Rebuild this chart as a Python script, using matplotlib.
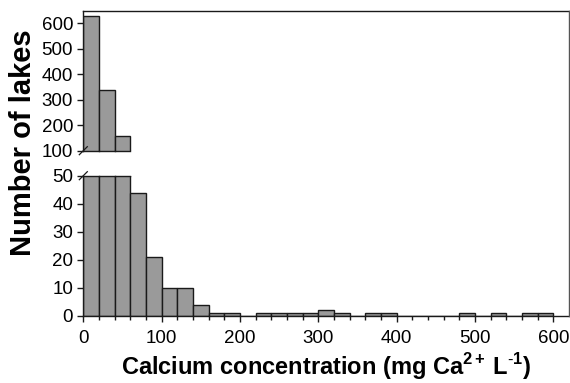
import numpy as np
import matplotlib
matplotlib.use("Agg")
import matplotlib.pyplot as plt
from matplotlib.lines import Line2D

plt.rcParams['font.family'] = ['Liberation Sans', 'DejaVu Sans']
plt.rcParams['mathtext.fontset'] = 'custom'
plt.rcParams['mathtext.rm'] = 'Liberation Sans'
plt.rcParams['mathtext.bf'] = 'Liberation Sans:bold'

# Histogram data: bin start (mg Ca2+ L-1), bin width 20
bin_width = 20
bin_starts = list(range(0, 600, 20))
counts = [630, 338, 159, 44, 21, 10, 10, 4, 1, 1,
          0, 1, 1, 1, 1, 2, 1, 0, 1, 1,
          0, 0, 0, 0, 1, 0, 1, 0, 1, 1]

upper_ticks = [100, 200, 300, 400, 500, 600]
lower_ticks = [0, 10, 20, 30, 40, 50]
x_ticks = [0, 100, 200, 300, 400, 500, 600]

W, H = 570, 383
fig = plt.figure(figsize=(W / 100, H / 100), dpi=100)

left = 83.3 / W
width = (569 - 83.3) / W
ax_up = fig.add_axes([left, 1 - 150.7 / H, width, 140 / H])
ax_lo = fig.add_axes([left, 1 - 315.7 / H, width, 140 / H])

bar_kw = dict(width=bin_width, align='edge', color='#9a9a9a', edgecolor='#1a1a1a', linewidth=1.0)
for ax in (ax_up, ax_lo):
    ax.bar(bin_starts, counts, **bar_kw)
    ax.set_xlim(0, 620)
    for s in ax.spines.values():
        s.set_linewidth(1.0)
        s.set_color('#1a1a1a')

ax_up.set_ylim(100, 650)
ax_lo.set_ylim(0, 50)

# lines where bars are cut by the axis break
for x, c in zip(bin_starts, counts):
    if c > 50:
        ax_lo.plot([x, x + bin_width], [50, 50], color='#1a1a1a', lw=1.0, clip_on=False)
    if c > 100:
        ax_up.plot([x, x + bin_width], [100, 100], color='#1a1a1a', lw=1.0, clip_on=False)

ax_up.set_yticks(upper_ticks)
ax_lo.set_yticks(lower_ticks)
ax_up.set_xticks([])
ax_up.spines['bottom'].set_visible(False)
ax_lo.spines['top'].set_visible(False)
ax_up.spines['right'].set_visible(False)
ax_lo.spines['right'].set_visible(False)

ax_lo.set_xticks(x_ticks)
ax_lo.set_xticks(bin_starts + [600], minor=True)
ax_lo.tick_params(axis='x', which='major', direction='out', length=4.2, width=1.0,
                  labelsize=13.5, pad=6, color='#1a1a1a')
ax_lo.tick_params(axis='x', which='minor', direction='out', length=3, width=1.0,
                  color='#1a1a1a')
for ax in (ax_up, ax_lo):
    ax.tick_params(axis='y', direction='out', length=4.3, width=1.0, labelsize=13.5, pad=3,
                   color='#1a1a1a')

# right border spanning both panels
fig.add_artist(Line2D([569 / W, 569 / W], [1 - 10.7 / H, 1 - 315.7 / H],
                      transform=fig.transFigure, color='#555555', lw=1.0))

# break marks
d = 4
for yy in (150.7, 175.7):
    fig.add_artist(Line2D([(83.3 - d) / W, (83.3 + d) / W], [1 - (yy + d) / H, 1 - (yy - d) / H],
                          transform=fig.transFigure, color='#1a1a1a', lw=0.9))

fig.text(23 / W, 1 - 143 / H, 'Number of lakes', rotation=90, ha='center', va='center',
         fontsize=21, fontweight='bold')
fig.text(326 / W, 1 - 375 / H,
         r'Calcium concentration (mg Ca$^{\mathbf{2+}}\,$L$^{\mathbf{\text{-}1}}$)',
         ha='center', va='baseline', fontsize=17, fontweight='bold')

fig.savefig('out.png', dpi=100)
